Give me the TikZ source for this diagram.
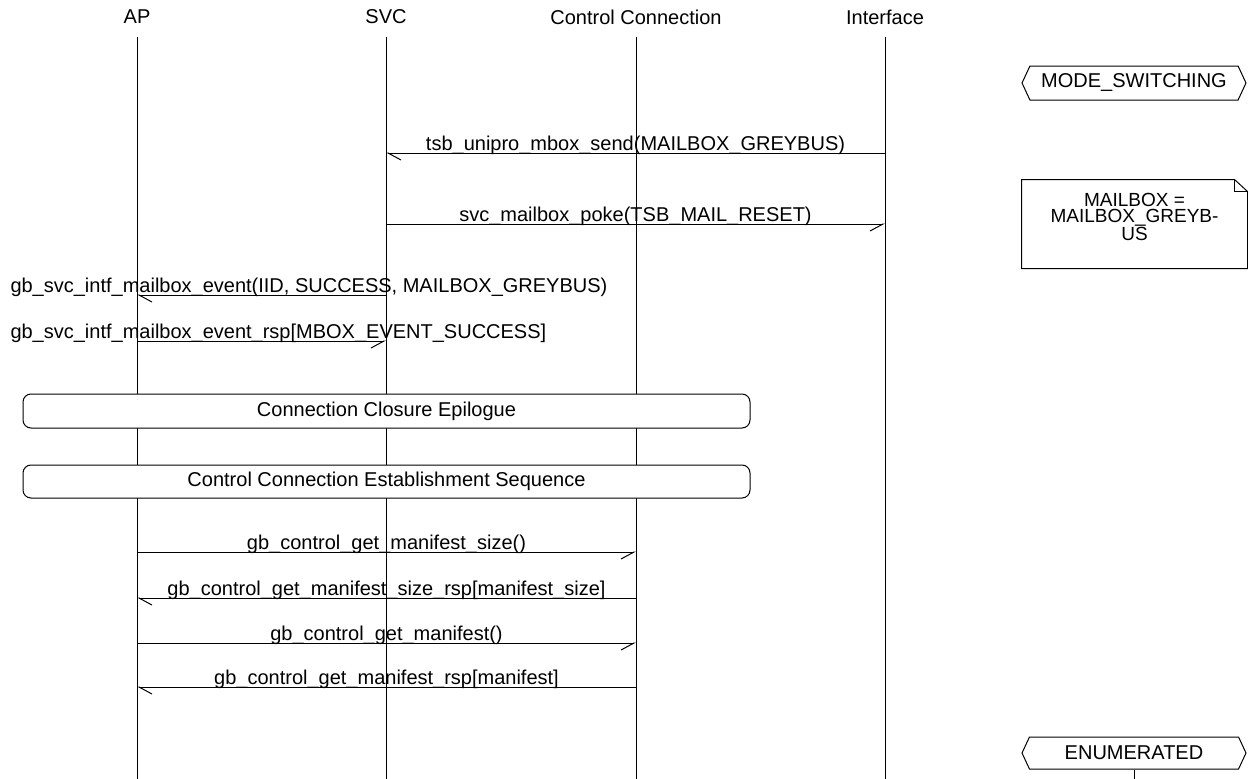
\documentclass[tikz,border=0pt]{standalone}
\usepackage{fontspec}
\setmainfont{Liberation Sans}
\usetikzlibrary{calc}
\usetikzlibrary{arrows.meta}
\usetikzlibrary{shapes.symbols}

\tikzset{
  ent/.style={font=\fontsize{20}{20}\selectfont, inner sep=0pt},
  lbl/.style={font=\fontsize{20}{20}\selectfont, anchor=base, inner sep=0pt, yshift=3pt},
  msgr/.style={-{Straight Barb[right,length=13pt,width=14pt]}},
  msgl/.style={-{Straight Barb[left,length=13pt,width=14pt]}},
  seqbox/.style={draw, fill=white, rounded corners=8pt, minimum width=727pt, minimum height=34pt,
    font=\fontsize{20}{20}\selectfont},
  statebox/.style={draw, fill=white, signal, signal to=west and east, signal pointer angle=130,
    minimum width=224pt, minimum height=34pt, inner sep=0pt, font=\fontsize{20}{20}\selectfont},
  notebox/.style={minimum width=225pt, minimum height=88pt, inner sep=0pt},
  notetext/.style={inner sep=0pt, align=center, font=\fontsize{19}{15.5}\selectfont}
}

\begin{document}
\begin{tikzpicture}[x=1pt,y=-1pt,line width=1pt]
\useasboundingbox (0,0) rectangle (1248,779);

% entities and their lifelines
\foreach \n/\x/\t in {ap/137/AP, svc/386/SVC, cc/636/Control Connection, intf/885/Interface}
  \node[ent] (\n) at (\x,17) {\t};
\foreach \n in {ap,svc,cc,intf}
  \draw (\n |- 0,37) -- (\n |- 0,779);

% mailbox handshake
\draw[msgl] (intf |- 0,153) -- node[lbl] (m1) {tsb\_unipro\_mbox\_send(MAILBOX\_GREYBUS)} (svc |- 0,153);
\draw[msgr] (svc |- 0,224) -- node[lbl] (m2) {svc\_mailbox\_poke(TSB\_MAIL\_RESET)} (intf |- 0,224);

\draw[msgl] (svc |- 0,295) -- (ap |- 0,295);
\node[lbl, anchor=base west] (m3) at (10,295) {gb\_svc\_intf\_mailbox\_event(IID, SUCCESS, MAILBOX\_GREYBUS)};
\draw[msgr] (ap |- 0,341) -- (svc |- 0,341);
\node[lbl, anchor=base west] (m4) at (10,341) {gb\_svc\_intf\_mailbox\_event\_rsp[MBOX\_EVENT\_SUCCESS]};

% sequence references
\node[seqbox] (epi) at (386.5,411) {Connection Closure Epilogue};
\node[seqbox, minimum height=33pt] (est) at (386.5,481.5) {Control Connection Establishment Sequence};

% manifest fetch
\draw[msgr] (ap |- 0,552) -- node[lbl] (m5) {gb\_control\_get\_manifest\_size()} (cc |- 0,552);
\draw[msgl] (cc |- 0,598) -- node[lbl] (m6) {gb\_control\_get\_manifest\_size\_rsp[manifest\_size]} (ap |- 0,598);
\draw[msgr] (ap |- 0,643) -- node[lbl] (m7) {gb\_control\_get\_manifest()} (cc |- 0,643);
\draw[msgl] (cc |- 0,687) -- node[lbl] (m8) {gb\_control\_get\_manifest\_rsp[manifest]} (ap |- 0,687);

% interface states
\node[statebox] (modesw) at (1134,83) {MODE\_SWITCHING};
\node[statebox, minimum height=32pt] (enum) at (1134,753) {ENUMERATED};
\draw (enum.south) -- (enum.south |- 0,779);

% note with folded corner
\node[notebox] (mbox) at (1134.5,224) {};
\node[notetext] (mboxtxt) at ([yshift=7pt]mbox.center) {MAILBOX =\\MAILBOX\_GREYB-\\US};
\draw (mbox.north west) -- ([xshift=-13pt]mbox.north east) -- ([yshift=-12pt]mbox.north east)
  -- (mbox.south east) -- (mbox.south west) -- cycle;
\draw ([xshift=-13pt]mbox.north east) -- ([xshift=-13pt,yshift=-12pt]mbox.north east)
  -- ([yshift=-12pt]mbox.north east);

\end{tikzpicture}
\end{document}
